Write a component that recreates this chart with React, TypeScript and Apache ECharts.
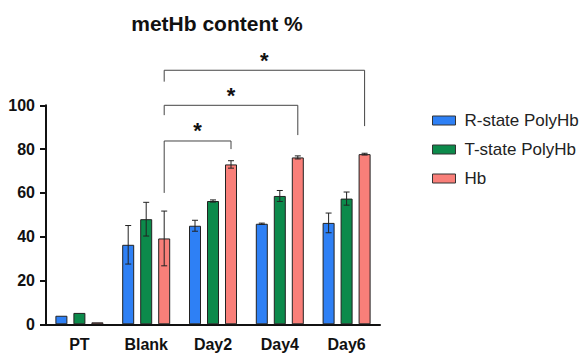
import React, { useEffect, useRef } from "react";
import * as echarts from "echarts";

const categories = ["PT", "Blank", "Day2", "Day4", "Day6"];
const seriesNames = ["R-state PolyHb", "T-state PolyHb", "Hb"];
const rValues = [3.9, 36.3, 45.0, 45.9, 46.3];
const rErrors = [0, 8.8, 2.5, 0.3, 4.5];
const tValues = [5.2, 48.0, 56.3, 58.6, 57.4];
const tErrors = [0, 7.7, 0.5, 2.5, 3.0];
const hbValues = [0.9, 39.2, 73.0, 76.2, 77.7];
const hbErrors = [0, 12.5, 1.7, 0.7, 0.4];
const yTicks = [0, 20, 40, 60, 80, 100];
// brackets: [leftCategory, rightCategory, leftLegBottom, top, rightLegBottom]
const brackets = [
  [1, 2, 60, 83.7, 80],
  [1, 3, 95.5, 100, 86.4],
  [1, 4, 110.8, 116, 90.5],
];
const colors = ["#2e80f5", "#0c8a4b", "#f97f79"];

export default function App() {
  const ref = useRef<HTMLDivElement>(null);
  useEffect(() => {
    if (!ref.current) return;
    const chart = echarts.init(ref.current, null, { renderer: "svg" });
    const BAR_W = 12;
    const OFFSET = 18;
    const offsets = [-OFFSET, 0, OFFSET];
    const values = [rValues, tValues, hbValues];
    const errors = [rErrors, tErrors, hbErrors];

    const barSeries = seriesNames.map((name, i) => ({
      name,
      type: "bar",
      data: values[i],
      barWidth: BAR_W,
      barGap: "50%",
      itemStyle: { color: colors[i], borderColor: "#222", borderWidth: 1 },
    }));

    const errSeries = seriesNames.map((_, i) => ({
      type: "custom",
      data: values[i].map((v, j) => [j, v, errors[i][j]]),
      z: 10,
      clip: false,
      renderItem: (params: any, api: any) => {
        const c = api.value(0);
        const v = api.value(1);
        const e = api.value(2);
        if (!e) return null;
        const top = api.coord([c, v + e]);
        const bot = api.coord([c, v - e]);
        const x = top[0] + offsets[i];
        const cap = 3;
        const st = { stroke: "#222", lineWidth: 1 };
        return {
          type: "group",
          children: [
            { type: "line", shape: { x1: x, y1: top[1], x2: x, y2: bot[1] }, style: st },
            { type: "line", shape: { x1: x - cap, y1: top[1], x2: x + cap, y2: top[1] }, style: st },
            { type: "line", shape: { x1: x - cap, y1: bot[1], x2: x + cap, y2: bot[1] }, style: st },
          ],
        };
      },
    }));

    const bracketSeries = {
      type: "custom",
      data: brackets,
      clip: false,
      z: 10,
      renderItem: (params: any, api: any) => {
        const l = api.value(0);
        const r = api.value(1);
        const lb = api.coord([l, api.value(2)]);
        const tl = api.coord([l, api.value(3)]);
        const tr = api.coord([r, api.value(3)]);
        const rb = api.coord([r, api.value(4)]);
        const xl = tl[0] + OFFSET;
        const xr = tr[0] + OFFSET;
        return {
          type: "group",
          children: [
            {
              type: "polyline",
              shape: { points: [[xl, lb[1]], [xl, tl[1]], [xr, tr[1]], [xr, rb[1]]] },
              style: { stroke: "#444", lineWidth: 1, fill: "none" },
            },
            {
              type: "text",
              x: (xl + xr) / 2,
              y: tl[1] + 1,
              style: {
                text: "*",
                fill: "#111",
                font: "bold 22px 'Liberation Sans', Arial, sans-serif",
                align: "center",
                verticalAlign: "bottom",
              },
            },
          ],
        };
      },
    };

    chart.setOption({
      animation: false,
      title: {
        text: "metHb content %",
        left: 212,
        textAlign: "center",
        top: 8,
        textStyle: {
          fontFamily: "'Liberation Sans', Arial, sans-serif",
          fontWeight: "bold",
          fontSize: 21,
          color: "#111",
        },
      },
      legend: {
        orient: "vertical",
        left: 427,
        top: 107,
        icon: "rect",
        itemWidth: 23,
        itemHeight: 9,
        itemGap: 12,
        data: seriesNames,
        itemStyle: { borderColor: "#333", borderWidth: 1 },
        textStyle: {
          fontFamily: "'Liberation Sans', Arial, sans-serif",
          fontSize: 17,
          color: "#222",
          padding: [0, 0, 0, 4],
        },
      },
      grid: { left: 46, right: 205, top: 105.3, bottom: 28.7, containLabel: false },
      xAxis: {
        type: "category",
        data: categories,
        axisLine: { lineStyle: { color: "#111", width: 2 } },
        axisTick: { alignWithLabel: true, length: 8, lineStyle: { color: "#111", width: 2 } },
        axisLabel: {
          fontFamily: "'Liberation Sans', Arial, sans-serif",
          fontWeight: "bold",
          fontSize: 16,
          color: "#111",
          margin: 12,
        },
      },
      yAxis: {
        type: "value",
        min: yTicks[0],
        max: yTicks[yTicks.length - 1],
        interval: 20,
        splitLine: { show: false },
        axisLine: { show: true, lineStyle: { color: "#111", width: 2 } },
        axisTick: { show: true, length: 6, lineStyle: { color: "#111", width: 2 } },
        axisLabel: {
          fontFamily: "'Liberation Sans', Arial, sans-serif",
          fontWeight: "bold",
          fontSize: 16,
          color: "#111",
          margin: 11,
        },
      },
      series: [...barSeries, ...errSeries, bracketSeries],
    });
    return () => chart.dispose();
  }, []);
  return <div ref={ref} style={{ width: 585, height: 353, position: "absolute", left: 0, top: 0, background: "#fff" }} />;
}
